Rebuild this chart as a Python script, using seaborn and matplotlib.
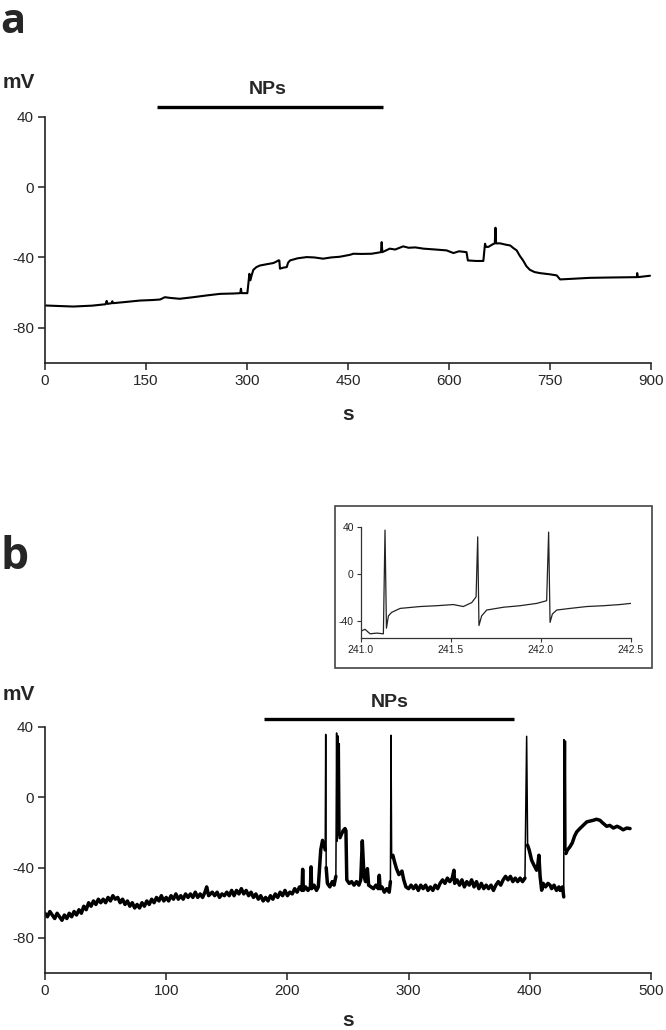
import matplotlib
matplotlib.use("Agg")
import matplotlib.pyplot as plt
import matplotlib.patches as mpatches
import numpy as np
import pandas as pd
import seaborn as sns

# ---- panel a: slow recording (s, mV) ----
a_time = [0, 20, 42, 70, 90, 91.6, 93, 99, 100, 101, 120, 141, 160, 171, 178, 186,
          200, 220, 240, 260, 280, 290, 291, 292, 300.5, 302, 303.5, 305, 307, 309.5,
          314, 319, 330, 339, 343, 346.5, 348, 349, 354, 359, 361, 364, 375, 388.6,
          400, 413, 425, 438, 453, 458, 470, 485, 499, 500, 501, 512, 520, 532, 540,
          550, 562, 580, 596.5, 606.5, 615, 626, 628, 640, 651, 653.5, 655, 658.5,
          665, 668, 669, 670, 676, 685, 691, 695, 700.5, 705, 710, 715, 720, 727,
          735, 750, 760, 765, 780, 809, 840, 879, 879.5, 880.5, 898.5]
a_mv = [-67.3, -67.6, -67.9, -67.4, -66.6, -64.7, -66.4, -66.0, -64.9, -66.0, -65.3,
        -64.5, -64.2, -63.9, -62.6, -63.0, -63.5, -62.6, -61.6, -60.7, -60.5, -60.3,
        -57.8, -60.3, -60.3, -55.0, -49.3, -53.0, -50.0, -47.0, -45.5, -44.6, -43.8,
        -43.2, -42.5, -41.7, -41.7, -46.4, -45.8, -45.5, -43.0, -41.7, -40.5, -39.8,
        -40.0, -40.7, -40.0, -39.6, -38.5, -37.9, -38.0, -37.9, -37.0, -31.3, -37.0,
        -35.0, -35.5, -33.7, -34.5, -34.3, -35.0, -35.5, -36.0, -37.5, -36.5, -37.0,
        -41.7, -42.0, -42.0, -32.2, -34.0, -34.0, -32.5, -32.0, -23.1, -32.0, -32.0,
        -32.8, -33.2, -34.5, -36.0, -39.0, -41.7, -45.0, -47.0, -48.3, -48.9, -49.6,
        -50.2, -52.5, -52.2, -51.6, -51.4, -51.2, -48.9, -51.2, -50.4]
a_bar = [166, 502]
a_xticks = [0, 150, 300, 450, 600, 750, 900]

# ---- panel b: recording with spikes (s, mV) ----
b_time = [0, 2, 4, 6, 8, 10, 12, 14, 16, 18, 20, 22, 24, 26, 28, 30, 32, 34, 36, 38,
          40, 42, 44, 46, 48, 50, 52, 54, 56, 58, 60, 62, 64, 66, 68, 70, 72, 74, 76,
          78, 80, 82, 84, 86, 88, 90, 92, 94, 96, 98, 100, 102, 104, 106, 108, 110,
          112, 114, 116, 118, 120, 122, 124, 126, 128, 130, 132, 133.4, 135, 138, 140,
          142, 144, 146, 148, 150, 152, 154, 156, 158, 160, 162, 164, 166, 168, 170,
          172, 174, 176, 178, 180, 182, 184, 186, 188, 190, 192, 194, 196, 198, 200,
          202, 204, 206, 208, 210, 212, 212.6, 213.2, 215, 217, 219, 219.5, 220, 222,
          224, 225.5, 226.5, 227.5, 229, 230, 231.2, 231.6, 232.0, 233, 235, 237,
          238.5, 240, 240.6, 241, 241.6, 242.2, 242.8, 243.4, 244.8, 246, 247.5,
          248.3, 249, 251, 253, 255, 257, 259, 260.5, 261.8, 263.2, 264.5, 266, 267,
          269, 271, 273, 275, 275.8, 276.5, 278, 280, 282, 284, 285, 285.5, 286, 287,
          288.5, 290, 292, 294.5, 296, 297.8, 300, 302, 304, 306, 308, 310, 312, 314,
          316, 318, 320, 322, 324, 326, 328, 330, 332, 334, 336, 337.4, 338, 340, 342,
          344, 346, 348, 350, 352, 354, 356, 358, 360, 362, 364, 366, 368, 370, 372,
          374, 376, 378, 380, 382, 384, 386, 388, 390, 392, 394, 396, 397.4, 398.2,
          399.5, 401.5, 403, 405.6, 406.5, 407.5, 408.5, 409.8, 411, 413, 415, 416.7,
          418, 420, 422, 424, 425, 427, 428, 428.2, 428.8, 429.4, 429.8, 431, 433, 435,
          437, 438.7, 441, 444, 447, 450, 452.3, 455, 457.9, 460, 463.4, 466, 469,
          472, 474.4, 477, 480, 482.7]
b_mv = [-66, -68, -65, -67, -69, -66, -68, -70, -67, -69, -66, -68, -65, -67, -64, -66,
        -62, -64, -60, -62, -59, -61, -58, -60, -58, -60, -57, -59, -56, -58, -57, -60,
        -58, -61, -59, -62, -60, -63, -61, -63, -60, -62, -59, -61, -58, -60, -57, -59,
        -56, -59, -57, -59, -56, -58, -55, -58, -56, -58, -55, -57, -55, -57, -54, -57,
        -55, -57, -54, -51, -56, -54, -56, -54, -57, -55, -56, -54, -56, -53, -56, -53,
        -55, -52, -55, -53, -56, -54, -57, -55, -58, -56, -59, -57, -59, -56, -58, -55,
        -57, -54, -56, -53, -56, -54, -55, -52, -54, -51, -53, -41, -53, -51, -53, -51,
        -39.6, -52, -50, -53, -51, -40, -30, -24.5, -26, -30, 35.8, -40, -49, -51, -48,
        -50, -45, 36.6, -25, 35, -22, 30.5, -23, -20.7, -19, -17.8, -19, -47, -49, -48,
        -50, -48, -50, -47, -24.8, -45, -48, -40.6, -50, -51, -52, -50, -52, -44.4, -52,
        -51, -54, -52, -54, -48, 35.3, -34, -33, -37, -40.6, -44, -42, -47, -51, -52,
        -50, -52, -50, -53, -50, -52, -50, -53, -51, -53, -50, -52, -49, -47, -49, -46,
        -48, -46, -41.5, -49, -47, -50, -47, -51, -48, -50, -47, -51, -48, -52, -49,
        -52, -50, -52, -50, -53, -50, -48, -50, -47, -45, -47, -45, -48, -46, -48, -46,
        -48, -46, 34.7, -27.3, -30, -35.8, -38, -41.5, -39, -33, -45, -52.9, -49, -51,
        -49, -50, -52, -50, -53, -51, -53, -51, -56.7, 32.8, -30, 32, -32, -30, -28.3,
        -26, -22, -19.7, -18, -16, -14, -13.5, -13.1, -12.5, -13.1, -14.5, -16.5, -16,
        -17.5, -16.5, -17.3, -18.5, -17.5, -17.8]
b_bar = [181, 387]
b_xticks = [0, 100, 200, 300, 400, 500]

# ---- inset: three action potentials ----
in_time = [241.0, 241.024, 241.052, 241.089, 241.126, 241.135, 241.143, 241.154,
           241.172, 241.219, 241.33, 241.422, 241.515, 241.57, 241.617, 241.641,
           241.65, 241.657, 241.672, 241.7, 241.793, 241.885, 241.978, 242.033,
           242.044, 242.052, 242.065, 242.089, 242.163, 242.256, 242.348, 242.44, 242.5]
in_mv = [-49.2, -47.5, -51.4, -50.8, -51.4, 37.6, -46.6, -36.0, -33.0, -29.6, -28.0,
         -27.3, -26.3, -28.0, -24.6, -19.7, 31.8, -44.3, -36.0, -31.0, -28.6, -27.3,
         -25.3, -23.0, 35.9, -41.6, -34.4, -31.0, -29.6, -28.0, -27.3, -26.3, -25.3]
in_xticks = [241.0, 241.5, 242.0, 242.5]

yticks = [40, 0, -40, -80]

sns.set_style("ticks")
plt.rcParams["font.family"] = ["Liberation Sans", "DejaVu Sans"]
plt.rcParams["axes.unicode_minus"] = False

W, H = 666, 1030
fig = plt.figure(figsize=(W / 100, H / 100), dpi=100)


def px_axes(left, top, right, bottom):
    return fig.add_axes([left / W, 1 - bottom / H, (right - left) / W, (bottom - top) / H])


def style_main(ax, xlim, xticks):
    ax.set_xlim(*xlim)
    ax.set_ylim(-100, 40)
    ax.set_xticks(xticks)
    ax.set_yticks(yticks)
    ax.set_xlabel("")
    ax.set_ylabel("")
    for side in ["top", "right"]:
        ax.spines[side].set_visible(False)
    for side in ["left", "bottom"]:
        ax.spines[side].set_linewidth(1.2)
        ax.spines[side].set_color("#222222")
    ax.tick_params(length=5, width=1.1, color="#222222", labelsize=11, pad=3)


# panel a
ax_a = px_axes(45, 116.7, 651, 363)
df_a = pd.DataFrame({"s": a_time, "mV": a_mv})
sns.lineplot(data=df_a, x="s", y="mV", ax=ax_a, estimator=None, sort=False,
             color="black", linewidth=1.5)
style_main(ax_a, (0, 900), a_xticks)
ax_a.plot(a_bar, [45.3, 45.3], color="black", lw=2.4, clip_on=False, solid_capstyle="butt")
ax_a.text(330, 55.5, "NPs", ha="center", va="center", fontsize=14, fontweight="bold")

# panel b: thin full trace, plus a thicker noisy band for the sub-threshold part
ax_b = px_axes(45, 727, 651, 973)
df_b = pd.DataFrame({"s": b_time, "mV": b_mv})
df_b["band"] = df_b["mV"].where(df_b["mV"] < 0)
sns.lineplot(data=df_b, x="s", y="mV", ax=ax_b, estimator=None, sort=False,
             color="black", linewidth=1.1)
ax_b.plot(df_b["s"], df_b["band"], color="black", linewidth=2.5,
          solid_joinstyle="round")
style_main(ax_b, (0, 500), b_xticks)
ax_b.plot(b_bar, [44.4, 44.4], color="black", lw=2.4, clip_on=False, solid_capstyle="butt")
ax_b.text(np.mean(b_bar), 53.7, "NPs", ha="center", va="center",
          fontsize=14, fontweight="bold")

# inset frame + axes
fig.patches.append(mpatches.Rectangle((335 / W, 1 - 668 / H), 317 / W, 162 / H,
                                      transform=fig.transFigure, fill=False,
                                      edgecolor="#444444", linewidth=1.2))
ax_in = px_axes(360.7, 527.3, 630.7, 638)
df_in = pd.DataFrame({"s": in_time, "mV": in_mv})
sns.lineplot(data=df_in, x="s", y="mV", ax=ax_in, estimator=None, sort=False,
             color="#222222", linewidth=0.9)
ax_in.set_xlim(241.0, 242.5)
ax_in.set_ylim(-55, 40)
ax_in.set_xticks(in_xticks)
ax_in.set_xticklabels([f"{t:.1f}" for t in in_xticks])
ax_in.set_yticks([40, 0, -40])
ax_in.set_xlabel("")
ax_in.set_ylabel("")
for side in ["top", "right"]:
    ax_in.spines[side].set_visible(False)
for side in ["left", "bottom"]:
    ax_in.spines[side].set_linewidth(0.9)
    ax_in.spines[side].set_color("#333333")
ax_in.tick_params(length=3, width=0.8, color="#333333", labelsize=7.5, pad=2,
                  labelcolor="#222222")

# labels
for y_mv in [83, 695]:
    fig.text(3 / W, 1 - y_mv / H, "mV", ha="left", va="center", fontsize=15, fontweight="bold")
for y_s in [414, 1021]:
    fig.text(348 / W, 1 - y_s / H, "s", ha="center", va="center", fontsize=15, fontweight="bold")
fig.text(0, 1 - 33 / H, "a", ha="left", va="baseline", fontsize=30, fontweight="bold",
         family=["Open Sans", "DejaVu Sans"])
fig.text(0, 1 - 569 / H, "b", ha="left", va="baseline", fontsize=32, fontweight="bold",
         family=["Open Sans", "DejaVu Sans"])

plt.savefig("out.png", dpi=100)
